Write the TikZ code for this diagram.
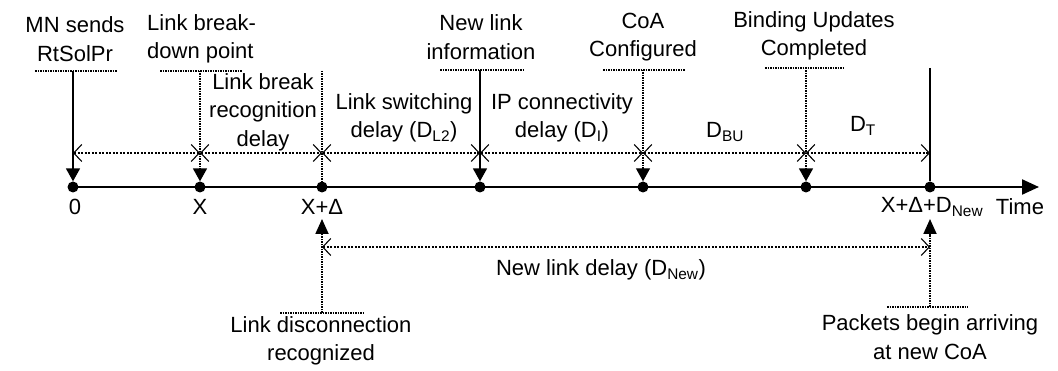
\documentclass[tikz,border=0pt]{standalone}
\usepackage{fontspec}
\setmainfont{Liberation Sans}
\usetikzlibrary{arrows.meta}
\begin{document}
\begin{tikzpicture}[x=1pt,y=-1pt,
  lbl/.style={font=\fontsize{22}{28.5}\selectfont, align=center, inner sep=0pt},
  dot/.style={circle, fill=black, inner sep=0pt, minimum size=11pt},
  axisline/.style={line width=2.2pt, -{Triangle[length=17pt,width=15pt]}},
  uline/.style={line width=1.1pt, dash pattern=on 1.5pt off 1pt},
  solidv/.style={line width=1.8pt, -{Triangle[length=13pt,width=14pt]}},
  dottedv/.style={line width=1.8pt, dash pattern=on 1.5pt off 1pt, -{Triangle[length=13pt,width=14pt]}},
  plainv/.style={line width=1.5pt, dash pattern=on 1.5pt off 1pt},
  upv/.style={line width=1.8pt, dash pattern=on 1.5pt off 1pt, -{Triangle[length=15pt,width=13pt]}},
  dim/.style={line width=1.1pt, dash pattern=on 2pt off 1.5pt,
    {Straight Barb[length=8pt,width=17pt]}-{Straight Barb[length=8pt,width=17pt]}},
]
\useasboundingbox (0,0) rectangle (1058,371);

% time axis
\coordinate (ax0) at (70,187);
\coordinate (ax1) at (1039,187);
\draw[axisline] (ax0) -- (ax1);

% event points
\node[dot] (d0) at (73,187) {};
\node[dot] (d1) at (200,187) {};
\node[dot] (d2) at (322,187) {};
\node[dot] (d3) at (480,187) {};
\node[dot] (d4) at (643,187) {};
\node[dot] (d5) at (806,187) {};
\node[dot] (d6) at (930,187) {};

% top labels
\node[lbl] (l0) at (75,39) {MN sends\\RtSolPr};
\node[lbl, align=left, anchor=west] (l1) at (147,39) {Link break-\\down point};
\node[lbl] (l3) at (481,37) {New link\\information};
\node[lbl] (l6) at (643,37) {CoA\\Configured};
\node[lbl] (l7) at (814,36) {Binding Updates\\Completed};

% underlines and junctions
\coordinate (u0a) at (35,71);  \coordinate (u0b) at (117,71);  \coordinate (t0) at (73,71);
\coordinate (u1a) at (160,71); \coordinate (u1b) at (242,71);  \coordinate (t1) at (200,71);
\coordinate (t2) at (322,71);
\coordinate (u3a) at (440,70); \coordinate (u3b) at (523,70);  \coordinate (t3) at (480,70);
\coordinate (u4a) at (603,70); \coordinate (u4b) at (685,70);  \coordinate (t4) at (643,70);
\coordinate (u5a) at (765,68); \coordinate (u5b) at (845,68);  \coordinate (t5) at (806,68);
\coordinate (t6) at (930,68);
\draw[uline] (u0a) -- (u0b);
\draw[uline] (u1a) -- (u1b);
\draw[uline] (u3a) -- (u3b);
\draw[uline] (u4a) -- (u4b);
\draw[uline] (u5a) -- (u5b);

% vertical connectors to the axis
\draw[solidv] (t0) -- (d0.north);
\draw[dottedv] (t1) -- (d1.north);
\draw[plainv] (t2) -- (d2.north);
\draw[solidv] (t3) -- (d3.north);
\draw[dottedv, line width=1.3pt] (t4) -- (d4.north);
\draw[dottedv] (t5) -- (d5.north);
\draw[line width=2.2pt] (t6) -- (d6.north);

% delay dimension line
\coordinate (h0) at (73,153);
\coordinate (h1) at (200,153);
\coordinate (h2) at (322,153);
\coordinate (h3) at (480,153);
\coordinate (h4) at (643,153);
\coordinate (h5) at (806,153);
\coordinate (h6) at (930,153);
\draw[dim] (h0) -- (h1);
\draw[dim] (h1) -- (h2);
\draw[dim] (h2) -- (h3);
\draw[dim] (h3) -- (h4);
\draw[dim] (h4) -- (h5);
\draw[dim] (h5) -- (h6);

% delay labels
\node[lbl] (l2) at (263,112) {Link break\\recognition\\delay};
\node[lbl] (l4) at (404,118) {Link switching\\delay (D\textsubscript{L2})};
\node[lbl] (l5) at (562,118) {IP connectivity\\delay (D\textsubscript{I})};
\node[lbl] (l8) at (725,132) {D\textsubscript{BU}};
\node[lbl] (l9) at (863,126) {D\textsubscript{T}};

% axis labels
\node[lbl] (a0) at (75,207) {0};
\node[lbl] (a1) at (200,207) {X};
\node[lbl] (a2) at (322,207) {X+Δ};
\node[lbl] (a6) at (932,207) {X+Δ+D\textsubscript{New}};
\node[lbl] (at) at (1020,207) {Time};

% bottom part
\coordinate (b2) at (322,219);
\coordinate (b6) at (930,219);
\coordinate (v2a) at (280,313); \coordinate (v2b) at (363,313); \coordinate (s2) at (322,313);
\coordinate (v6a) at (887,307); \coordinate (v6b) at (968,307); \coordinate (s6) at (930,307);
\draw[uline] (v2a) -- (v2b);
\draw[uline] (v6a) -- (v6b);
\draw[upv] (s2) -- (b2);
\draw[upv] (s6) -- (b6);
\coordinate (n2) at (322,247);
\coordinate (n6) at (930,247);
\draw[dim] (n2) -- (n6);
\node[lbl] (nl) at (601,270) {New link delay (D\textsubscript{New})};
\node[lbl] (ld) at (321,341) {Link disconnection\\recognized};
\node[lbl] (lp) at (930,337) {Packets begin arriving\\at new CoA};
\end{tikzpicture}
\end{document}
